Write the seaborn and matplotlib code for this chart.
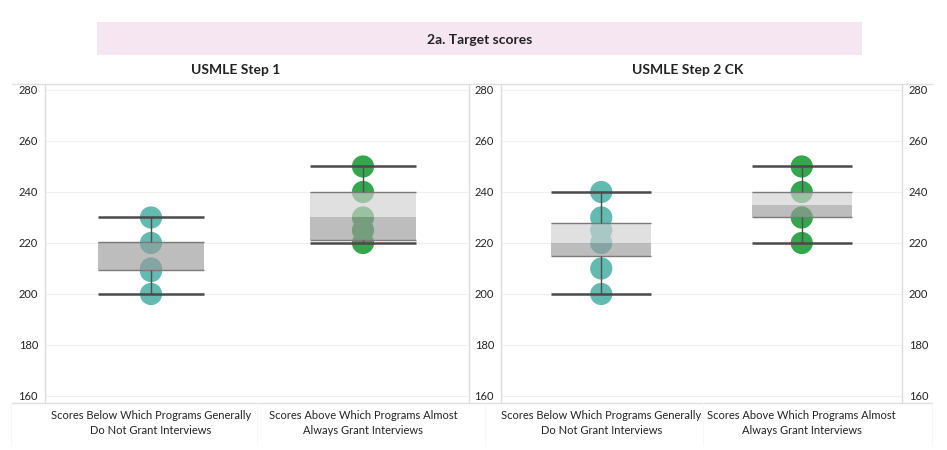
import matplotlib
matplotlib.use("Agg")
import matplotlib.pyplot as plt
from matplotlib.patches import Rectangle
from matplotlib.lines import Line2D
import seaborn as sns
import pandas as pd

# categories and panels
categories = ['Scores Below Which Programs Generally\nDo Not Grant Interviews',
              'Scores Above Which Programs Almost\nAlways Grant Interviews']
panels = ['USMLE Step 1', 'USMLE Step 2 CK']

# individual program target scores
step1_below = [200, 209, 210, 220, 230]
step1_above = [220, 225, 230, 240, 250]
step2_below = [200, 210, 220, 225, 230, 240]
step2_above = [220, 230, 240, 250]

# box stats per panel per category: whisker low, Q1, median, Q3, whisker high
step1_stats = [[200, 209.3, 220.3, 220.3, 230],
               [220, 221.0, 230.0, 240.0, 250]]
step2_stats = [[200, 215.0, 220.0, 228.0, 240],
               [220, 230.0, 235.0, 240.0, 250]]

y_ticks = [160, 180, 200, 220, 240, 260, 280]

dot_colors = ['#62bab1', '#34a64d']

sns.set_theme(style='white')
plt.rcParams['font.family'] = ['Lato', 'DejaVu Sans']

fig = plt.figure(figsize=(9.47, 4.5), dpi=100)
W, H = 947, 450

def fig_box(x0, x1, y0, y1):
    return [x0 / W, 1 - y1 / H, (x1 - x0) / W, (y1 - y0) / H]

ax1 = fig.add_axes(fig_box(45, 469, 84, 403))
ax2 = fig.add_axes(fig_box(501, 902, 84, 403))

panel_data = [
    ([step1_below, step1_above], step1_stats),
    ([step2_below, step2_above], step2_stats),
]

for ax, (values, stats) in zip([ax1, ax2], panel_data):
    rows = []
    for cat, vals in zip(categories, values):
        for v in vals:
            rows.append({'category': cat, 'score': v})
    df = pd.DataFrame(rows)

    sns.stripplot(data=df, x='category', y='score', hue='category',
                  order=categories, hue_order=categories,
                  palette=dot_colors, jitter=False, size=16,
                  linewidth=0, legend=False, ax=ax, zorder=2)

    for i, (lo, q1, med, q3, hi) in enumerate(stats):
        half = 0.25
        # lower hinge (dark) and upper hinge (light)
        ax.bar(i, med - q1, bottom=q1, width=2 * half, color='#9a9a9a',
               alpha=0.65, linewidth=0, zorder=3)
        ax.bar(i, q3 - med, bottom=med, width=2 * half, color='#d0d0d0',
               alpha=0.65, linewidth=0, zorder=3)
        ax.hlines([q1, q3], i - half, i + half, color='#7a7a7a', lw=1, zorder=4)
        # whiskers
        ax.vlines(i, hi, q3, color='#505050', lw=1, zorder=4)
        ax.vlines(i, lo, q1, color='#505050', lw=1, zorder=4)
        ax.hlines([lo, hi], i - half, i + half, color='#4a4a4a', lw=1.8, zorder=4)

    ax.set_xlim(-0.5, 1.5)
    ax.set_ylim(157.25, 282.35)
    ax.set_yticks(y_ticks)
    ax.set_xlabel('')
    ax.set_ylabel('')
    ax.grid(axis='y', color='#f0f0f0', lw=0.8)
    ax.grid(axis='x', visible=False)
    ax.set_axisbelow(True)
    for s in ['top', 'bottom']:
        ax.spines[s].set_visible(False)
    for s in ['left', 'right']:
        ax.spines[s].set_color('#dcdcdc')
        ax.spines[s].set_linewidth(1)
    ax.tick_params(axis='both', length=0, labelsize=8, colors='#222222')
    ax.tick_params(axis='y', pad=5)
    ax.tick_params(axis='x', pad=5)
    ax.set_xticks([0, 1])
    ax.set_xticklabels(categories, fontsize=8, linespacing=1.45, color='#222222')

ax2.tick_params(axis='y', which='both', right=True, labelright=True, left=True, labelleft=True)

# frame lines shared by both panels
for y in [84, 403]:
    fig.add_artist(Line2D([12 / W, 932 / W], [1 - y / H, 1 - y / H],
                          color='#e0e0e0', lw=1))
for x in [11, 257, 485, 703, 932]:
    fig.add_artist(Line2D([x / W, x / W], [1 - 403 / H, 1 - 445 / H],
                          color='#f6f6f6', lw=0.6))

# header band
fig.add_artist(Rectangle((97 / W, 1 - 55 / H), 765 / W, 33 / H,
                         transform=fig.transFigure, color='#f5e6f2', lw=0))
fig.text(479.5 / W, 1 - 40 / H, '2a. Target scores', ha='center', va='center',
         fontsize=10, fontweight='bold', color='#222222')
fig.text(236 / W, 1 - 70 / H, panels[0], ha='center', va='center',
         fontsize=10, fontweight='bold', color='#222222')
fig.text(688 / W, 1 - 70 / H, panels[1], ha='center', va='center',
         fontsize=10, fontweight='bold', color='#222222')

fig.savefig('out.png', dpi=100)
